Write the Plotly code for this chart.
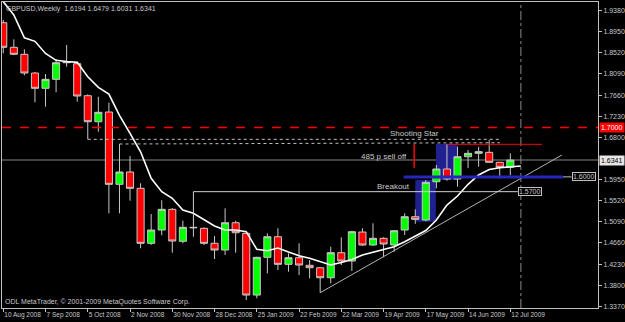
import plotly.graph_objects as go
import pandas as pd

# ---------------- data ----------------
start_week = "2008-08-10"
opens = [1.9128, 1.8629, 1.8487, 1.8107, 1.7797, 1.7979, 1.8316, 1.8296, 1.7647, 1.7119,
         1.7316, 1.5849, 1.6099, 1.5768, 1.4652, 1.4922, 1.5342, 1.4693, 1.4977, 1.4957,
         1.4653, 1.4516, 1.5070, 1.4855, 1.3603, 1.4368, 1.4786, 1.4226, 1.4360, 1.4206,
         1.4157, 1.3954, 1.4462, 1.4293, 1.4881, 1.4618, 1.4754, 1.4618, 1.4922, 1.5192,
         1.5125, 1.5902, 1.6160, 1.5957, 1.6409, 1.6478, 1.6498, 1.6296, 1.6194]
highs = [1.9185, 1.8791, 1.8588, 1.8127, 1.8087, 1.8390, 1.8675, 1.8337, 1.7675, 1.7627,
         1.7505, 1.6667, 1.6423, 1.5870, 1.5247, 1.5525, 1.5368, 1.5111, 1.5023, 1.4975,
         1.4800, 1.5362, 1.5111, 1.4870, 1.4380, 1.4855, 1.4957, 1.4449, 1.4652, 1.4313,
         1.4160, 1.4583, 1.4774, 1.4908, 1.4957, 1.5058, 1.4775, 1.4918, 1.5261, 1.5342,
         1.5936, 1.6241, 1.6667, 1.6612, 1.6545, 1.6612, 1.6748, 1.6296, 1.6479]
lows = [1.8507, 1.8470, 1.8061, 1.7513, 1.7424, 1.7716, 1.8235, 1.7525, 1.6762, 1.6916,
        1.5261, 1.5261, 1.5517, 1.4551, 1.4620, 1.4815, 1.4462, 1.4652, 1.4786, 1.4618,
        1.4334, 1.4415, 1.4462, 1.3502, 1.3536, 1.4044, 1.4110, 1.4076, 1.4009, 1.3942,
        1.3650, 1.3841, 1.4212, 1.4091, 1.4597, 1.4597, 1.4368, 1.4481, 1.4820, 1.5047,
        1.5100, 1.5768, 1.5922, 1.5801, 1.6177, 1.6206, 1.6296, 1.5970, 1.6031]
closes = [1.8629, 1.8487, 1.8107, 1.7797, 1.7979, 1.8316, 1.8331, 1.7641, 1.7119, 1.7310,
          1.5849, 1.6099, 1.5768, 1.4652, 1.4922, 1.5342, 1.4699, 1.4977, 1.4969, 1.4652,
          1.4516, 1.5070, 1.4867, 1.3603, 1.4368, 1.4786, 1.4226, 1.4360, 1.4212, 1.4157,
          1.3954, 1.4462, 1.4293, 1.4888, 1.4618, 1.4754, 1.4638, 1.4908, 1.5192, 1.5139,
          1.5890, 1.6160, 1.5957, 1.6409, 1.6478, 1.6511, 1.6296, 1.6194, 1.6341]
# moving average (shifted one bar forward -> one extra point)
ma_values = [1.9554, 1.9284, 1.8820, 1.8750, 1.8503, 1.8365, 1.8341, 1.8324, 1.8032, 1.7817,
             1.7681, 1.7249, 1.6884, 1.6510, 1.5970, 1.5699, 1.5565, 1.5328, 1.5261, 1.5139,
             1.5003, 1.4922, 1.4922, 1.4888, 1.4530, 1.4502, 1.4557, 1.4476, 1.4401, 1.4348,
             1.4279, 1.4212, 1.4263, 1.4324, 1.4415, 1.4466, 1.4530, 1.4583, 1.4685, 1.4796,
             1.4912, 1.5125, 1.5429, 1.5612, 1.5849, 1.6038, 1.6150, 1.6186, 1.6206, 1.6221]
date_tick_labels = ["10 Aug 2008", "7 Sep 2008", "5 Oct 2008", "2 Nov 2008", "30 Nov 2008",
                    "28 Dec 2008", "25 Jan 2009", "22 Feb 2009", "22 Mar 2009", "19 Apr 2009",
                    "17 May 2009", "14 Jun 2009", "12 Jul 2009"]
price_ticks = [1.9380, 1.8950, 1.8520, 1.8090, 1.7660, 1.7230, 1.6800,
               1.5950, 1.5520, 1.5090, 1.4660, 1.4230, 1.3800, 1.3370]
header_text = "GBPUSD,Weekly  1.6194 1.6479 1.6031 1.6341"
copyright_text = "ODL MetaTrader, \u00a9 2001-2009 MetaQuotes Software Corp."
bid_price = 1.6341
resistance_price = 1.7000
support_price = 1.6000
breakout_price = 1.5700
shooting_star_high = 1.6667

BASE = pd.Timestamp(start_week)


def wk(i):
    return BASE + pd.Timedelta(days=7 * i)


weeks = [wk(i) for i in range(len(opens))]
ma_x = [wk(i) for i in range(len(ma_values))]

FONT = "Liberation Sans, Arial, sans-serif"
FG = "#c8c8c8"

fig = go.Figure()

fig.add_trace(go.Candlestick(
    x=weeks, open=opens, high=highs, low=lows, close=closes,
    increasing=dict(fillcolor="#00ff00", line=dict(color="#c8c8c8", width=1)),
    decreasing=dict(fillcolor="#ff0000", line=dict(color="#c8c8c8", width=1)),
    whiskerwidth=0, hoverinfo="skip"))

fig.add_trace(go.Scatter(x=ma_x, y=ma_values, mode="lines",
                         line=dict(color="#ffffff", width=1.6), hoverinfo="skip"))

shapes = []
# blue zones
shapes.append(dict(type="rect", xref="x", yref="y", x0=wk(39.0), x1=wk(40.95), y0=1.5090, y1=1.5937,
                   fillcolor="#20208f", line=dict(width=0), layer="below"))
shapes.append(dict(type="rect", xref="x", yref="y", x0=wk(40.95), x1=wk(43.0), y0=1.5937, y1=shooting_star_high,
                   fillcolor="#20208f", line=dict(width=0), layer="below"))
# bid line
shapes.append(dict(type="line", xref="paper", yref="y", x0=0, x1=1, y0=bid_price, y1=bid_price,
                   line=dict(color="#5a5a5a", width=1.5), layer="below"))
# red dashed resistance
shapes.append(dict(type="line", xref="paper", yref="y", x0=0, x1=1, y0=resistance_price, y1=resistance_price,
                   line=dict(color="#ff0000", width=1.5, dash="dash")))
# vertical dashed marker
shapes.append(dict(type="line", xref="x", yref="paper", x0=wk(49), x1=wk(49), y0=0, y1=1,
                   line=dict(color="#8a8a8a", width=1, dash="dashdot")))
# rising trendline
shapes.append(dict(type="line", xref="x", yref="y", x0=wk(30), y0=1.3650, x1=wk(52.88), y1=1.6444,
                   line=dict(color="#b4b4b4", width=1)))
# support 1.6000 blue line
shapes.append(dict(type="line", xref="x", yref="y", x0=wk(37.9), x1=wk(53.0), y0=support_price, y1=support_price,
                   line=dict(color="#2626b8", width=3)))
shapes.append(dict(type="line", xref="x", yref="y", x0=wk(53.0), x1=wk(53.8), y0=support_price, y1=support_price,
                   line=dict(color="#c0c0c0", width=1)))
# breakout line (L shape)
shapes.append(dict(type="line", xref="x", yref="y", x0=wk(18), x1=wk(18), y0=highs[18], y1=breakout_price,
                   line=dict(color="#d0d0d0", width=1)))
shapes.append(dict(type="line", xref="x", yref="y", x0=wk(18), x1=wk(48.7), y0=breakout_price, y1=breakout_price,
                   line=dict(color="#d0d0d0", width=1)))
# 485 pip sell-off
shapes.append(dict(type="line", xref="x", yref="y", x0=wk(38.9), x1=wk(38.9), y0=shooting_star_high - 0.0485,
                   y1=shooting_star_high, line=dict(color="#ff0000", width=1.5)))
shapes.append(dict(type="line", xref="x", yref="y", x0=wk(42), x1=wk(51), y0=1.6661, y1=1.6661,
                   line=dict(color="#ff0000", width=1)))
# dotted horizontals
shapes.append(dict(type="line", xref="x", yref="y", x0=wk(8), x1=wk(47), y0=1.6762, y1=1.6762,
                   line=dict(color="#c0c0c0", width=1, dash="dot")))
shapes.append(dict(type="line", xref="x", yref="y", x0=wk(11), x1=wk(47), y0=1.6667, y1=1.6693,
                   line=dict(color="#c0c0c0", width=1, dash="dot")))

annotations = []
annotations.append(dict(xref="paper", yref="paper", x=0, y=1, xanchor="left", yanchor="top",
                        xshift=2, yshift=-1, text=header_text, showarrow=False,
                        font=dict(family=FONT, size=7, color=FG)))
annotations.append(dict(xref="paper", yref="paper", x=0, y=0, xanchor="left", yanchor="bottom",
                        xshift=1, yshift=0, text=copyright_text, showarrow=False,
                        font=dict(family=FONT, size=7, color=FG)))
annotations.append(dict(xref="x", yref="y", x=wk(38.9), y=1.6890, text="Shooting Star", showarrow=False,
                        font=dict(family=FONT, size=8, color=FG)))
annotations.append(dict(xref="x", yref="y", x=wk(36.0), y=1.6423, text="485 p sell off", showarrow=False,
                        font=dict(family=FONT, size=8, color=FG)))
annotations.append(dict(xref="x", yref="y", x=wk(36.9), y=1.5815, text="Breakout", showarrow=False,
                        font=dict(family=FONT, size=8, color=FG)))
annotations.append(dict(xref="x", yref="y", x=wk(48.7), y=breakout_price, xanchor="left",
                        text=f"{breakout_price:.4f}", showarrow=False, bgcolor="#000000",
                        bordercolor="#c0c0c0", borderwidth=1, borderpad=0,
                        font=dict(family=FONT, size=7, color=FG)))
annotations.append(dict(xref="x", yref="y", x=wk(53.8), y=support_price, xanchor="left",
                        text=f"{support_price:.4f}", showarrow=False, bgcolor="#000000",
                        bordercolor="#c0c0c0", borderwidth=1, borderpad=0,
                        font=dict(family=FONT, size=7, color=FG)))
annotations.append(dict(xref="paper", yref="y", x=1, y=resistance_price, xanchor="left", xshift=1,
                        text=f"{resistance_price:.4f}", showarrow=False, bgcolor="#ff0000",
                        borderpad=1, font=dict(family=FONT, size=7, color="#ffffff")))
annotations.append(dict(xref="paper", yref="y", x=1, y=bid_price, xanchor="left", xshift=1,
                        text=f"{bid_price:.4f}", showarrow=False, bgcolor="#e6e6e6",
                        borderpad=1, font=dict(family=FONT, size=7, color="#000000")))

fig.update_layout(
    width=625, height=322,
    margin=dict(l=2, r=27, t=2, b=14, pad=0, autoexpand=False),
    paper_bgcolor="#000000", plot_bgcolor="#000000",
    showlegend=False, shapes=shapes, annotations=annotations,
    boxgap=0.33, boxgroupgap=0,
    font=dict(family=FONT, size=7, color=FG),
    xaxis=dict(range=[wk(-0.12), wk(56.3)], rangeslider=dict(visible=False),
               showgrid=False, zeroline=False, showline=True, mirror=True, automargin=False,
               linecolor="#c0c0c0", linewidth=1, ticks="outside", ticklen=3, tickcolor="#c0c0c0",
               tickvals=[wk(4 * k) for k in range(len(date_tick_labels))], ticktext=date_tick_labels,
               ticklabelposition="outside right", tickangle=0,
               tickfont=dict(family=FONT, size=6.5, color=FG)),
    yaxis=dict(range=[1.3340, 1.9548], side="right", showgrid=False, zeroline=False, automargin=False,
               showline=True, mirror=True, linecolor="#c0c0c0", linewidth=1,
               ticks="outside", ticklen=3, tickcolor="#c0c0c0",
               tickvals=price_ticks, ticktext=[f"{p:.4f}" for p in price_ticks],
               tickfont=dict(family=FONT, size=7, color=FG)),
)

fig.write_html("out.html")
